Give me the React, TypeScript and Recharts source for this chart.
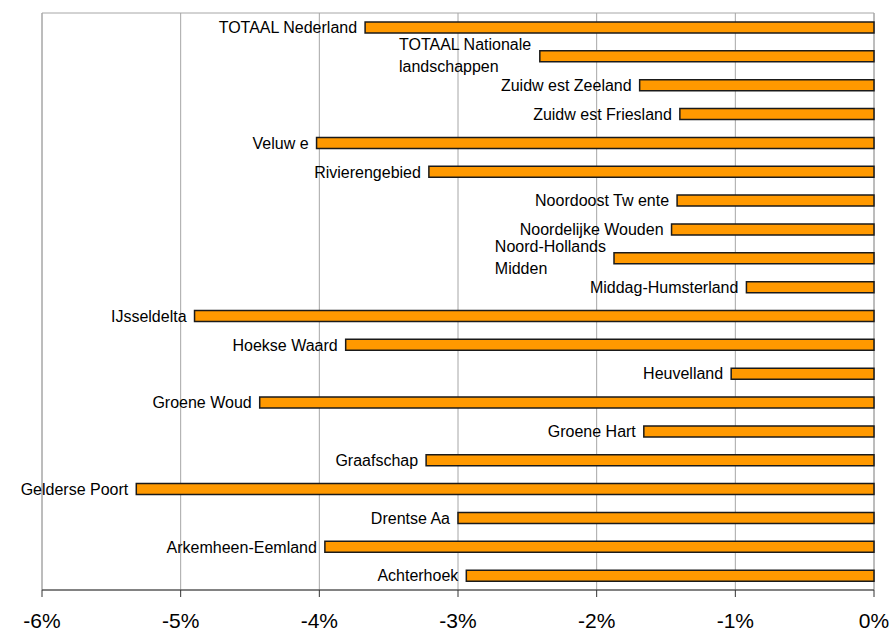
import { Bar, BarChart, CartesianGrid, LabelList, ReferenceArea, XAxis, YAxis } from "recharts";

const regions = [
  "TOTAAL Nederland",
  "TOTAAL Nationale\nlandschappen",
  "Zuidw est Zeeland",
  "Zuidw est Friesland",
  "Veluw e",
  "Rivierengebied",
  "Noordoost Tw ente",
  "Noordelijke Wouden",
  "Noord-Hollands\nMidden",
  "Middag-Humsterland",
  "IJsseldelta",
  "Hoekse Waard",
  "Heuvelland",
  "Groene Woud",
  "Groene Hart",
  "Graafschap",
  "Gelderse Poort",
  "Drentse Aa",
  "Arkemheen-Eemland",
  "Achterhoek",
];

const change = [
  -3.67, -2.41, -1.69, -1.4, -4.02, -3.21, -1.42, -1.46, -1.875, -0.92,
  -4.9, -3.81, -1.03, -4.43, -1.66, -3.23, -5.32, -3.0, -3.96, -2.94,
];

const xTicks = [-6, -5, -4, -3, -2, -1, 0];

const chartData = regions.map((region, i) => ({ region, change: change[i] }));

const FONT = "'Liberation Sans', Arial, sans-serif";

let ctx: CanvasRenderingContext2D | null = null;
function textWidth(s: string): number {
  if (!ctx) ctx = document.createElement("canvas").getContext("2d");
  if (!ctx) return s.length * 8;
  ctx.font = `16px ${FONT}`;
  return ctx.measureText(s).width;
}

// label sits left of the bar; two-line labels are left-aligned blocks
function RegionLabel(props: any) {
  const { x, y, width, height, value } = props;
  const left = Math.min(Number(x), Number(x) + Number(width));
  const cy = Number(y) + Number(height) / 2;
  const lines = String(value).split("\n");
  const right = left - 8;

  if (lines.length === 1) {
    return (
      <text x={right} y={cy} dy="0.36em" textAnchor="end" fontSize={16} fontFamily={FONT} fill="#000">
        {lines[0]}
      </text>
    );
  }

  const start = right - Math.max(...lines.map(textWidth));
  return (
    <text x={start} y={cy} textAnchor="start" fontSize={16} fontFamily={FONT} fill="#000">
      <tspan x={start} y={cy - 12} dy="0.36em">{lines[0]}</tspan>
      <tspan x={start} y={cy + 10} dy="0.36em">{lines[1]}</tspan>
    </text>
  );
}

export default function App() {
  return (
    <div style={{ position: "absolute", left: 0, top: 0, background: "#fff" }}>
      <BarChart
        width={891}
        height={631}
        data={chartData}
        layout="vertical"
        margin={{ top: 13, right: 17, left: 42, bottom: 0 }}
        barCategoryGap={0}
      >
        <CartesianGrid horizontal={false} stroke="#a6a6a6" />
        <ReferenceArea x1={-6} x2={0} fill="none" stroke="#a6a6a6" />
        <XAxis
          type="number"
          domain={[-6, 0]}
          ticks={xTicks}
          tickFormatter={(v) => `${v}%`}
          height={41}
          tickSize={7}
          tickMargin={16}
          stroke="#333"
          tick={{ fill: "#000", fontSize: 21, fontFamily: FONT }}
          interval={0}
        />
        <YAxis type="category" dataKey="region" hide />
        <Bar
          dataKey="change"
          fill="#ff9900"
          stroke="#1a1a1a"
          strokeWidth={1.5}
          barSize={11}
          isAnimationActive={false}
        >
          <LabelList dataKey="region" content={RegionLabel} />
        </Bar>
      </BarChart>
    </div>
  );
}
